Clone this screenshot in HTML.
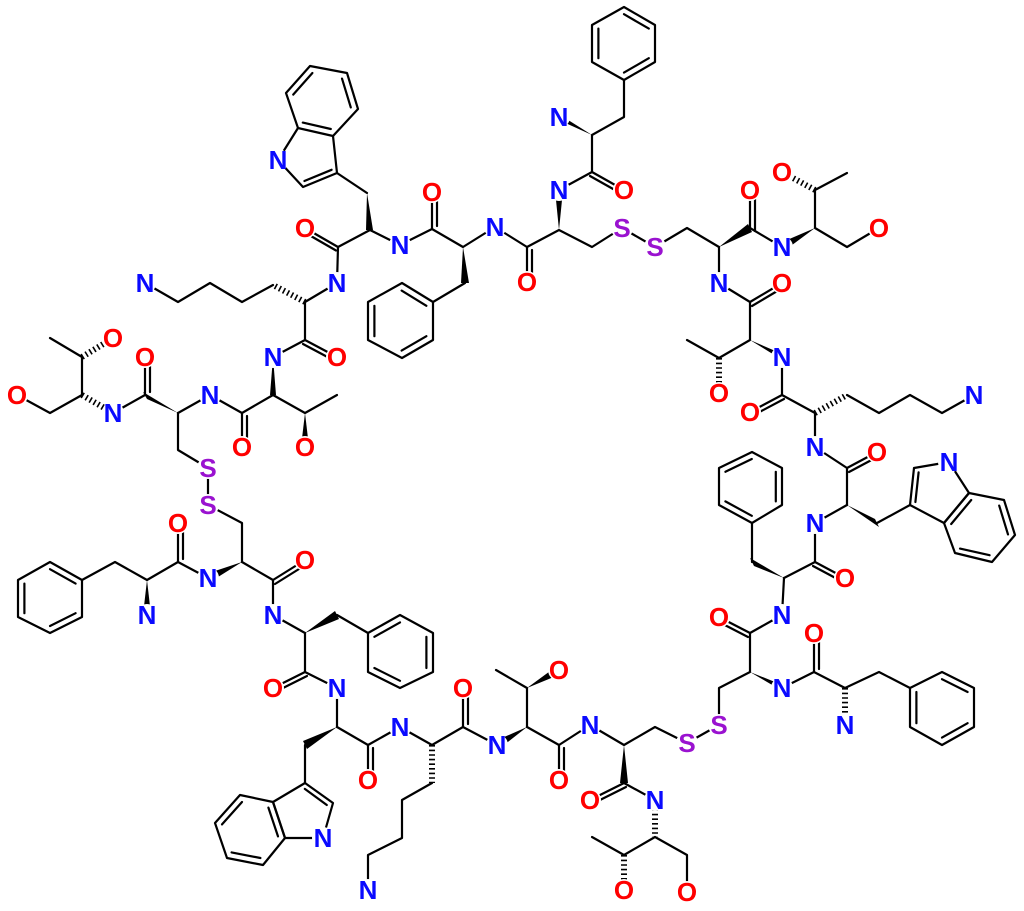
<!DOCTYPE html>
<html><head><meta charset="utf-8"><style>
html,body{margin:0;padding:0;background:#fff;}
svg{display:block;}
text{font-family:"Liberation Sans",sans-serif;font-weight:bold;font-size:26px;text-anchor:middle;dominant-baseline:central;}
.N{fill:#0a0aff}.O{fill:#ff0000}.S{fill:#9a12d0}
</style></head><body>
<svg width="1024" height="911" viewBox="0 0 1024 911" xmlns="http://www.w3.org/2000/svg">
<g stroke="#000" stroke-width="2.2" fill="none" stroke-linecap="round" stroke-linejoin="round">
<polygon points="310,66 347,73 358,109 333,136 298,128 286,93"/>
<line x1="293.2" y1="94.6" x2="312.4" y2="73"/><line x1="342" y1="78.6" x2="350.8" y2="107.4"/><line x1="302.8" y1="122.6" x2="330.8" y2="129"/>
<polyline points="298,128 278,160 303,187 337,173 333,136"/>
<line x1="304.4" y1="181" x2="331.6" y2="169.8"/>
<polyline points="337,173 367,193"/>
<polyline points="370,230 338,247"/><line x1="336" y1="250.5" x2="303" y2="231.5"/><line x1="338" y1="247" x2="305" y2="228"/>
<polyline points="370,230 400,245 432,229 463,247 495,227"/>
<line x1="432" y1="229" x2="432" y2="192"/><line x1="437" y1="226" x2="437" y2="195"/>
<polyline points="465,283 433,302"/>
<polygon points="433,302 402,283 368,302 368,340 402,358 433,340"/>
<line x1="374.4" y1="305.8" x2="374.4" y2="336.2"/><line x1="401.6" y1="290.6" x2="426.4" y2="305.8"/><line x1="401.6" y1="350.6" x2="426.4" y2="336.2"/>
<polyline points="338,247 337,283 305,302"/>
<polyline points="273,285 242,302 210,283 178,302 145,283"/>
<polyline points="305,302 305,340 273,357"/>
<line x1="305" y1="340" x2="337" y2="357"/><line x1="303" y1="344" x2="335" y2="361"/>
<polyline points="273,395 305,413 337,395"/>
<polyline points="273,395 242,413 210,395 178,413"/>
<line x1="242" y1="413" x2="242" y2="447"/><line x1="247" y1="416" x2="247" y2="444"/>
<polyline points="145,395 113,413"/>
<line x1="145" y1="395" x2="145" y2="357"/><line x1="150" y1="392" x2="150" y2="360"/>
<polyline points="82,395 82,357 50,338"/>
<polyline points="82,395 50,413 17,395"/>
<polyline points="178,413 178,450 208,468"/>
<line x1="208" y1="468" x2="208" y2="505"/>
<polyline points="208,505 242,523 242,562"/>
<polyline points="208,578 178,562 147,580"/>
<line x1="178" y1="562" x2="178" y2="523"/><line x1="183" y1="559" x2="183" y2="526"/>
<polyline points="147,580 115,562 82,580"/>
<polygon points="82,580 50,562 18,580 18,617 50,633 82,617"/>
<line x1="50" y1="569.2" x2="75.6" y2="583.6"/><line x1="24.4" y1="583.6" x2="24.4" y2="613.2"/><line x1="50" y1="626" x2="75.6" y2="613.2"/>
<polyline points="242,562 273,580 273,615 305,633"/>
<line x1="273" y1="580" x2="305" y2="560"/><line x1="275" y1="584" x2="307" y2="564"/>
<polyline points="337,615 368,633"/>
<polygon points="368,633 400,615 433,633 433,672 400,688 368,672"/>
<line x1="374.4" y1="636.8" x2="400" y2="622.4"/><line x1="426.4" y1="636.8" x2="426.4" y2="668"/><line x1="400" y1="680.8" x2="374.4" y2="668"/>
<polyline points="305,633 305,672 337,688 337,727"/>
<line x1="305" y1="672" x2="273" y2="688"/><line x1="307" y1="676" x2="275" y2="692"/>
<polyline points="305,745 305,783"/>
<polygon points="305,783 333,803 323,838 285,838 273,802"/>
<line x1="304.8" y1="788.9" x2="326.8" y2="805"/>
<polygon points="273,802 240,795 215,823 227,858 263,865 285,838"/>
<line x1="268.4" y1="807.6" x2="278" y2="836.4"/><line x1="242" y1="802" x2="222" y2="824.4"/><line x1="231.6" y1="852.4" x2="260.4" y2="858"/>
<polyline points="337,727 368,745 400,727 432,745 463,727 497,745"/>
<line x1="368" y1="745" x2="368" y2="780"/><line x1="373" y1="748" x2="373" y2="777"/>
<polyline points="432,783 402,800 402,838 368,855 368,890"/>
<line x1="463" y1="727" x2="463" y2="688"/><line x1="468" y1="724" x2="468" y2="691"/>
<polyline points="527,727 527,688 496,670"/>
<polyline points="527,727 559,745 590,725 624,745 655,727 687,743"/>
<line x1="559" y1="745" x2="559" y2="780"/><line x1="564" y1="748" x2="564" y2="777"/>
<line x1="687" y1="743" x2="719" y2="725"/>
<polyline points="719,725 719,688 750,672 750,633 782,615"/>
<line x1="750" y1="633" x2="719" y2="617"/><line x1="748" y1="637" x2="717" y2="621"/>
<polyline points="624,783 655,800"/>
<line x1="624" y1="783" x2="590" y2="800"/><line x1="626" y1="787" x2="592" y2="804"/>
<polyline points="624,855 655,837 687,855 687,892"/>
<polyline points="624,855 592,837"/>
<polyline points="782,688 814,672 845,688 879,672 910,688"/>
<line x1="814" y1="672" x2="814" y2="633"/><line x1="819" y1="669" x2="819" y2="636"/>
<polygon points="910,688 942,672 974,688 974,727 942,745 910,727"/>
<line x1="942" y1="679.2" x2="967.6" y2="692"/><line x1="916.4" y1="692" x2="916.4" y2="723.2"/><line x1="942" y1="737.6" x2="967.6" y2="723.2"/>
<polyline points="782,615 784,578"/>
<polyline points="752,562 752,523"/>
<polygon points="752,523 782,505 782,468 752,452 719,468 719,505"/>
<line x1="775.8" y1="501.4" x2="775.8" y2="471.8"/><line x1="725.4" y1="471.8" x2="751.8" y2="459"/><line x1="725.4" y1="501.4" x2="751.8" y2="515.8"/>
<polyline points="784,578 815,562 815,523 847,505"/>
<line x1="815" y1="562" x2="845" y2="578"/><line x1="813" y1="566" x2="843" y2="582"/>
<polyline points="877,523 910,505"/>
<polygon points="910,505 914,468 949,462 969,493 944,523"/>
<line x1="915.4" y1="502" x2="918.6" y2="472.4"/>
<polygon points="969,493 1004,500 1015,535 992,562 955,553 944,523"/>
<line x1="971.2" y1="500" x2="951.2" y2="524"/><line x1="999.2" y1="505.6" x2="1008" y2="534.4"/><line x1="989.6" y1="555.2" x2="960" y2="548.6"/>
<polyline points="847,505 847,468 815,447 815,413 782,395 782,357"/>
<line x1="847" y1="468" x2="877" y2="452"/><line x1="849" y1="472" x2="879" y2="456"/>
<polyline points="847,395 879,413 910,395 942,413 974,395"/>
<line x1="782" y1="395" x2="750" y2="412"/><line x1="784" y1="399" x2="752" y2="416"/>
<polyline points="687,340 719,358 750,340 750,302 719,283 719,247"/>
<line x1="750" y1="302" x2="782" y2="283"/><line x1="752" y1="306" x2="784" y2="287"/>
<polyline points="750,228 782,247"/>
<line x1="750" y1="228" x2="750" y2="190"/><line x1="755" y1="231" x2="755" y2="193"/>
<polyline points="847,173 815,190 815,228 847,247 879,228"/>
<polyline points="719,247 687,228 655,247"/>
<line x1="655" y1="247" x2="622" y2="228"/>
<polyline points="622,228 592,247 559,230 527,247 495,227"/>
<line x1="527" y1="247" x2="527" y2="282"/><line x1="532" y1="250" x2="532" y2="279"/>
<polyline points="559,190 592,172 592,135 624,117 624,80"/>
<line x1="592" y1="172" x2="624" y2="190"/><line x1="590" y1="176" x2="622" y2="194"/>
<polygon points="624,80 655,62 655,25 624,7 592,25 592,62"/>
<line x1="598.4" y1="28.6" x2="598.4" y2="58.2"/><line x1="624" y1="14.2" x2="648.8" y2="28.6"/><line x1="624" y1="72.6" x2="648.8" y2="58.2"/>
</g>
<g fill="#000" stroke="none">
<polygon points="367,193 373,230 366,230"/>
<polygon points="463,247 461,283 469,283"/>
<polygon points="273,357 276,395 270,395" />
<polygon points="305,413 301,447 309,447"/>
<polygon points="178,413 143,392 147,399"/>
<polygon points="242,562 206,574 210,582"/>
<polygon points="147,580 143,615 151,615"/>
<polygon points="305,633 335,611 339,619"/>
<polygon points="337,727 303,741 307,749"/>
<polygon points="527,727 495,741 499,749"/>
<polygon points="527,688 557,666 561,674"/>
<polygon points="750,672 780,684 784,692"/>
<polygon points="624,745 620,783 628,783"/>
<polygon points="784,578 750,558 754,566"/>
<polygon points="847,505 875,519 879,527"/>
<polygon points="750,340 780,353 784,361"/>
<polygon points="719,247 748,224 752,232"/>
<polygon points="815,228 780,243 784,251"/>
<polygon points="559,230 555,190 563,190"/>
<polygon points="592,135 557,113 561,121"/>
</g>
<g stroke="#000" stroke-width="6" stroke-dasharray="1.6,3" fill="none">
<line x1="305" y1="302" x2="273" y2="285"/>
<line x1="82" y1="395" x2="113" y2="413"/>
<line x1="82" y1="357" x2="113" y2="338"/>
<line x1="432" y1="745" x2="432" y2="783"/>
<line x1="655" y1="800" x2="655" y2="837"/>
<line x1="624" y1="855" x2="624" y2="890"/>
<line x1="845" y1="688" x2="845" y2="725"/>
<line x1="815" y1="413" x2="847" y2="395"/>
<line x1="719" y1="358" x2="719" y2="393"/>
<line x1="815" y1="190" x2="782" y2="172"/>
</g>
<g fill="#fff">
<circle cx="278" cy="160" r="11"/><circle cx="305" cy="228" r="11"/><circle cx="400" cy="245" r="11"/><circle cx="432" cy="192" r="11"/><circle cx="495" cy="227" r="11"/><circle cx="337" cy="283" r="11"/><circle cx="145" cy="283" r="11"/><circle cx="337" cy="357" r="11"/><circle cx="273" cy="357" r="11"/><circle cx="305" cy="447" r="11"/><circle cx="242" cy="447" r="11"/><circle cx="210" cy="395" r="11"/><circle cx="145" cy="357" r="11"/><circle cx="113" cy="413" r="11"/><circle cx="17" cy="395" r="11"/><circle cx="113" cy="338" r="11"/><circle cx="208" cy="468" r="11"/><circle cx="208" cy="505" r="11"/><circle cx="178" cy="523" r="11"/><circle cx="147" cy="615" r="11"/><circle cx="208" cy="578" r="11"/><circle cx="305" cy="560" r="11"/><circle cx="273" cy="615" r="11"/><circle cx="273" cy="688" r="11"/><circle cx="337" cy="688" r="11"/><circle cx="323" cy="838" r="11"/><circle cx="368" cy="780" r="11"/><circle cx="400" cy="727" r="11"/><circle cx="368" cy="890" r="11"/><circle cx="463" cy="688" r="11"/><circle cx="497" cy="745" r="11"/><circle cx="559" cy="670" r="11"/><circle cx="559" cy="780" r="11"/><circle cx="590" cy="725" r="11"/><circle cx="687" cy="743" r="11"/><circle cx="719" cy="725" r="11"/><circle cx="719" cy="617" r="11"/><circle cx="782" cy="615" r="11"/><circle cx="782" cy="688" r="11"/><circle cx="814" cy="633" r="11"/><circle cx="845" cy="725" r="11"/><circle cx="590" cy="800" r="11"/><circle cx="655" cy="800" r="11"/><circle cx="687" cy="892" r="11"/><circle cx="624" cy="890" r="11"/><circle cx="845" cy="578" r="11"/><circle cx="815" cy="523" r="11"/><circle cx="949" cy="462" r="11"/><circle cx="877" cy="452" r="11"/><circle cx="815" cy="447" r="11"/><circle cx="750" cy="412" r="11"/><circle cx="974" cy="395" r="11"/><circle cx="782" cy="357" r="11"/><circle cx="719" cy="393" r="11"/><circle cx="782" cy="283" r="11"/><circle cx="719" cy="283" r="11"/><circle cx="750" cy="190" r="11"/><circle cx="782" cy="247" r="11"/><circle cx="782" cy="172" r="11"/><circle cx="879" cy="228" r="11"/><circle cx="622" cy="228" r="11"/><circle cx="655" cy="247" r="11"/><circle cx="527" cy="282" r="11"/><circle cx="559" cy="190" r="11"/><circle cx="624" cy="190" r="11"/><circle cx="559" cy="117" r="11"/>
</g>
<g>
<text class="N" x="278" y="160">N</text><text class="O" x="305" y="228">O</text><text class="N" x="400" y="245">N</text><text class="O" x="432" y="192">O</text><text class="N" x="495" y="227">N</text><text class="N" x="337" y="283">N</text><text class="N" x="145" y="283">N</text><text class="O" x="337" y="357">O</text><text class="N" x="273" y="357">N</text><text class="O" x="305" y="447">O</text><text class="O" x="242" y="447">O</text><text class="N" x="210" y="395">N</text><text class="O" x="145" y="357">O</text><text class="N" x="113" y="413">N</text><text class="O" x="17" y="395">O</text><text class="O" x="113" y="338">O</text>
<text class="S" x="208" y="468">S</text><text class="S" x="208" y="505">S</text><text class="O" x="178" y="523">O</text><text class="N" x="147" y="615">N</text><text class="N" x="208" y="578">N</text><text class="O" x="305" y="560">O</text><text class="N" x="273" y="615">N</text><text class="O" x="273" y="688">O</text><text class="N" x="337" y="688">N</text><text class="N" x="323" y="838">N</text><text class="O" x="368" y="780">O</text><text class="N" x="400" y="727">N</text><text class="N" x="368" y="890">N</text><text class="O" x="463" y="688">O</text><text class="N" x="497" y="745">N</text>
<text class="O" x="559" y="670">O</text><text class="O" x="559" y="780">O</text><text class="N" x="590" y="725">N</text><text class="S" x="687" y="743">S</text><text class="S" x="719" y="725">S</text><text class="O" x="719" y="617">O</text><text class="N" x="782" y="615">N</text><text class="N" x="782" y="688">N</text><text class="O" x="814" y="633">O</text><text class="N" x="845" y="725">N</text><text class="O" x="590" y="800">O</text><text class="N" x="655" y="800">N</text><text class="O" x="687" y="892">O</text><text class="O" x="624" y="890">O</text>
<text class="O" x="845" y="578">O</text><text class="N" x="815" y="523">N</text><text class="N" x="949" y="462">N</text><text class="O" x="877" y="452">O</text><text class="N" x="815" y="447">N</text><text class="O" x="750" y="412">O</text><text class="N" x="974" y="395">N</text><text class="N" x="782" y="357">N</text><text class="O" x="719" y="393">O</text><text class="O" x="782" y="283">O</text><text class="N" x="719" y="283">N</text><text class="O" x="750" y="190">O</text><text class="N" x="782" y="247">N</text><text class="O" x="782" y="172">O</text><text class="O" x="879" y="228">O</text>
<text class="S" x="622" y="228">S</text><text class="S" x="655" y="247">S</text><text class="O" x="527" y="282">O</text><text class="N" x="559" y="190">N</text><text class="O" x="624" y="190">O</text><text class="N" x="559" y="117">N</text>
</g>
</svg>
</body></html>
